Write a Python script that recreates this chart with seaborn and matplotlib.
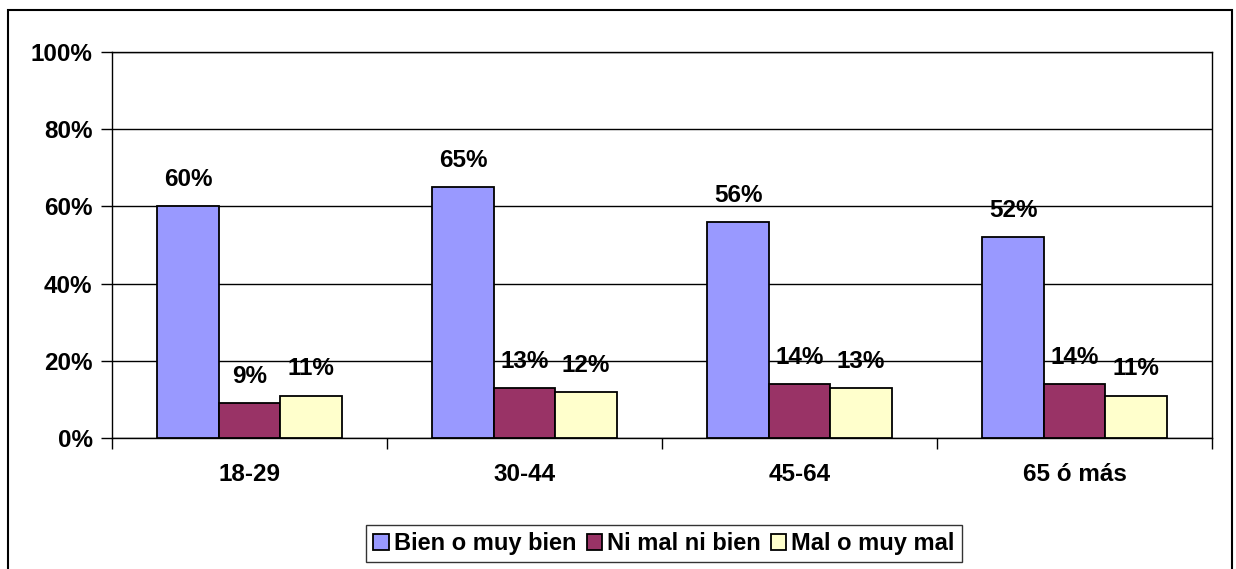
import matplotlib
matplotlib.use("Agg")
import matplotlib.pyplot as plt
import seaborn as sns
import pandas as pd
from matplotlib.patches import Rectangle, Patch
from matplotlib.ticker import FixedLocator, PercentFormatter

categories = ["18-29", "30-44", "45-64", "65 ó más"]
series_names = ["Bien o muy bien", "Ni mal ni bien", "Mal o muy mal"]
bien = [60, 65, 56, 52]
ni = [9, 13, 14, 14]
mal = [11, 12, 13, 11]
colors = ["#9999FF", "#993366", "#FFFFCC"]
yticks = [0, 20, 40, 60, 80, 100]

rows = []
for name, vals in zip(series_names, [bien, ni, mal]):
    for c, v in zip(categories, vals):
        rows.append({"cat": c, "serie": name, "val": v})
df = pd.DataFrame(rows)

sns.set_theme(style="white")
plt.rcParams["font.family"] = ["Liberation Sans", "DejaVu Sans"]
plt.rcParams["font.weight"] = "bold"
plt.rcParams["text.color"] = "black"
plt.rcParams["xtick.color"] = "black"
plt.rcParams["ytick.color"] = "black"
plt.rcParams["xtick.labelcolor"] = "black"
plt.rcParams["ytick.labelcolor"] = "black"

FS = 17.5

fig = plt.figure(figsize=(12.36, 5.69), dpi=100)
ax = fig.add_axes([112/1236, 1-438/569, 1100/1236, 386/569])

sns.barplot(data=df, x="cat", y="val", hue="serie", hue_order=series_names,
            order=categories, palette=colors, edgecolor="black", linewidth=1.3,
            width=0.67, gap=0, saturation=1, ax=ax, legend=False, zorder=3)

ax.set_ylim(0, 100)
ax.set_xlim(-0.5, 3.5)
ax.set_yticks(yticks)
ax.yaxis.set_major_formatter(PercentFormatter(decimals=0))
ax.grid(axis="y", color="black", linewidth=1.0, zorder=0)
ax.grid(axis="x", visible=False)
ax.set_xlabel("")
ax.set_ylabel("")
for s in ax.spines.values():
    s.set_visible(True)
    s.set_color("black")
    s.set_linewidth(1.0)

ax.tick_params(axis="y", which="major", direction="out", length=8, width=1,
               color="black", pad=6, labelsize=FS, left=True, labelcolor="black")
ax.tick_params(axis="x", which="major", length=0, pad=18, labelsize=FS,
               labelcolor="black")
ax.xaxis.set_minor_locator(FixedLocator([-0.5, 0.5, 1.5, 2.5, 3.5]))
ax.tick_params(axis="x", which="minor", direction="out", length=8, width=1,
               color="black", bottom=True)
for lab in ax.get_xticklabels() + ax.get_yticklabels():
    lab.set_fontweight("bold")

for cont in ax.containers:
    for bar in cont:
        h = bar.get_height()
        ax.annotate(f"{h:.0f}%", (bar.get_x() + bar.get_width()/2, h),
                    xytext=(0, 14.5), textcoords="offset points",
                    ha="center", va="baseline", fontsize=FS, fontweight="bold",
                    color="black", zorder=5)

handles = [Patch(facecolor=c, edgecolor="black", linewidth=1.3) for c in colors]
leg = fig.legend(handles, series_names, loc="center", ncol=3,
                 bbox_to_anchor=(664/1236, 1-543.5/569), frameon=True,
                 fancybox=False, edgecolor="black", handlelength=0.65,
                 handleheight=0.65, handletextpad=0.2, columnspacing=0.45,
                 borderpad=0.3, borderaxespad=0,
                 prop={"size": 17, "weight": "bold"})
leg.get_frame().set_linewidth(1.0)

fig.patches.append(Rectangle((8/1236, -0.05), 1224/1236, 1.05 - 10/569,
                             transform=fig.transFigure, fill=False,
                             edgecolor="black", linewidth=1.5))

fig.savefig("out.png", dpi=100)
